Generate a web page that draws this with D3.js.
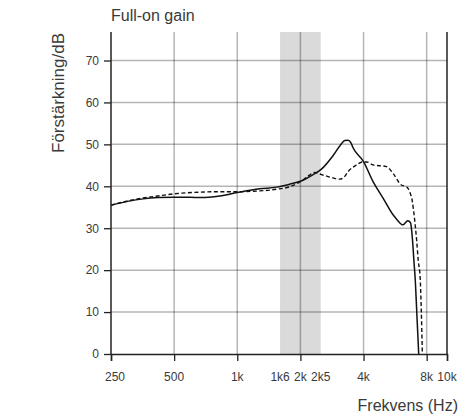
<!DOCTYPE html>
<html>
<head>
<meta charset="utf-8">
<script src="https://cdn.jsdelivr.net/npm/d3@7"></script>
<style>
  html, body { margin: 0; padding: 0; background: #fff; }
  svg { display: block; }
  text { font-family: "Liberation Sans", Arial, sans-serif; fill: #3a3a3a; }
</style>
</head>
<body>
<svg id="chart" width="475" height="419"></svg>
<script>
// ---- data ----
const title = "Full-on gain";
const yTitle = "Förstärkning/dB";
const xTitle = "Frekvens (Hz)";

const xTickValues = [250, 500, 1000, 2000, 4000, 8000, 10000];
const xLabelValues = [250, 500, 1000, 1600, 2000, 2500, 4000, 8000, 10000];
const xLabelTexts = ["250", "500", "1k", "1k6", "2k", "2k5", "4k", "8k", "10k"];
const xGridValues = [500, 1000, 2000, 4000, 8000];
const yTickValues = [0, 10, 20, 30, 40, 50, 60, 70];
const bandRange = [1600, 2500];

// solid curve: [frequency Hz, gain dB]
const solidFreq = [250, 300, 356, 420, 500, 600, 663, 826, 1000, 1280, 1540, 1780, 2000, 2300, 2520, 2860, 3100, 3255, 3375, 3480, 3565, 4000, 4440, 4955, 5530, 5740, 6170, 6500, 6700, 6840, 6950, 7070, 7190, 7330];
const solidGain = [35.5, 36.4, 37.0, 37.3, 37.4, 37.4, 37.3, 37.7, 38.5, 39.4, 39.8, 40.5, 41.2, 42.8, 44.1, 47.3, 49.8, 50.9, 51.0, 50.4, 49.2, 45.9, 41.1, 37.2, 33.2, 32.2, 30.8, 31.8, 31.3, 27.5, 22.4, 17, 9, 0];

// dashed curve
const dashedFreq = [250, 300, 356, 420, 500, 663, 800, 956, 1280, 1540, 1780, 2000, 2200, 2330, 2520, 2860, 3080, 3230, 3375, 3700, 3950, 4150, 4440, 5140, 5530, 6060, 6400, 6640, 6840, 7010, 7170, 7290, 7450, 7630];
const dashedGain = [35.5, 36.5, 37.2, 37.7, 38.2, 38.6, 38.7, 38.7, 38.9, 39.3, 39.9, 41.1, 42.6, 43.3, 42.8, 42.0, 41.7, 42.2, 43.5, 45.1, 45.8, 45.8, 45.1, 44.7, 43.1, 40.3, 39.9, 38.7, 36.3, 32, 27, 22.4, 18, 0];

// ---- layout ----
const W = 475, H = 419;
const margin = { top: 32, right: 28, bottom: 65, left: 111 };
const iw = W - margin.left - margin.right;
const ih = H - margin.top - margin.bottom;

const x = d3.scaleLog().domain([250, 10000]).range([0, iw]);
const y = d3.scaleLinear().domain([0, 76.8]).range([ih, 0]);

const svg = d3.select("#chart");
const g = svg.append("g").attr("transform", `translate(${margin.left},${margin.top})`);

// band
g.append("rect")
  .attr("x", x(bandRange[0]))
  .attr("y", 0)
  .attr("width", x(bandRange[1]) - x(bandRange[0]))
  .attr("height", ih)
  .attr("fill", "#dadada");

// grid
const gridColor = "rgba(0,0,0,0.29)";
g.append("g").selectAll("line").data(xGridValues).join("line")
  .attr("x1", d => x(d)).attr("x2", d => x(d))
  .attr("y1", 0).attr("y2", ih)
  .attr("stroke", gridColor).attr("stroke-width", 1.5);
g.append("g").selectAll("line").data(yTickValues.filter(v => v > 0)).join("line")
  .attr("x1", 0).attr("x2", iw)
  .attr("y1", d => y(d)).attr("y2", d => y(d))
  .attr("stroke", gridColor).attr("stroke-width", 1.5);

// curves
const line = d3.line().x(d => x(d[0])).y(d => y(d[1])).curve(d3.curveMonotoneX);
const solid = solidFreq.map((f, i) => [f, solidGain[i]]);
const dashed = dashedFreq.map((f, i) => [f, dashedGain[i]]);

g.append("path").datum(dashed)
  .attr("d", line).attr("fill", "none")
  .attr("stroke", "#111").attr("stroke-width", 1.4)
  .attr("stroke-dasharray", "4,2.5");
g.append("path").datum(solid)
  .attr("d", line).attr("fill", "none")
  .attr("stroke", "#111").attr("stroke-width", 1.5);

// axes frame lines
const axisColor = "#222";
g.append("line").attr("x1", 0).attr("x2", 0).attr("y1", 0).attr("y2", ih)
  .attr("stroke", axisColor).attr("stroke-width", 1.5);
g.append("line").attr("x1", iw).attr("x2", iw).attr("y1", 0).attr("y2", ih)
  .attr("stroke", axisColor).attr("stroke-width", 1.5);

// x axis
const xAxis = g.append("g").attr("transform", `translate(0,${ih})`)
  .call(d3.axisBottom(x).tickValues(xTickValues).tickSize(7).tickFormat(""));
xAxis.select(".domain").attr("stroke", axisColor).attr("stroke-width", 1.5);
xAxis.selectAll(".tick line").attr("stroke", axisColor).attr("stroke-width", 1.3);

g.append("g").selectAll("text").data(xLabelValues).join("text")
  .attr("x", d => x(d))
  .attr("dx", d => d === 250 ? 4 : 0)
  .attr("y", ih + 27)
  .attr("text-anchor", "middle")
  .style("font-size", "12px")
  .text((d, i) => xLabelTexts[i]);

// y axis
const yAxis = g.append("g")
  .call(d3.axisLeft(y).tickValues(yTickValues).tickSize(7).tickPadding(5));
yAxis.select(".domain").remove();
yAxis.selectAll(".tick line").attr("stroke", axisColor).attr("stroke-width", 1.3);
yAxis.selectAll(".tick text").style("font-size", "12px").attr("fill", "#3a3a3a")
  .style("font-family", '"Liberation Sans", Arial, sans-serif');

// titles
svg.append("text")
  .attr("x", margin.left).attr("y", 21)
  .style("font-size", "16px")
  .text(title);

svg.append("text")
  .attr("transform", `translate(64,${margin.top + 1}) rotate(-90)`)
  .attr("text-anchor", "end")
  .style("font-size", "17px")
  .text(yTitle);

svg.append("text")
  .attr("x", 458).attr("y", 411)
  .attr("text-anchor", "end")
  .style("font-size", "16px")
  .text(xTitle);
</script>
</body>
</html>
